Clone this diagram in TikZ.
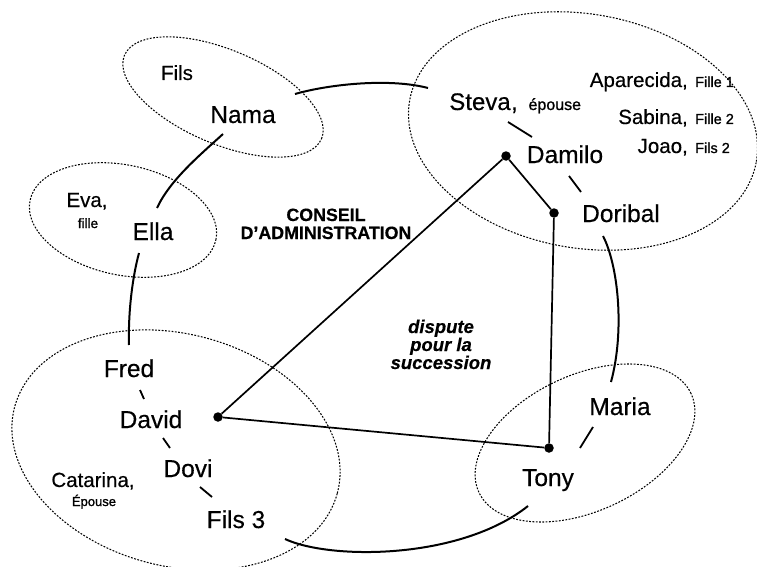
\documentclass[tikz,border=0pt]{standalone}
\usepackage{fontspec}
\setmainfont{Liberation Sans}[FakeBold=0.4]
\newfontfamily\smallf{Liberation Sans}[FakeBold=1.1]
\newcommand{\fbig}{\fontsize{24.5}{28}\selectfont}
\newcommand{\fmid}{\fontsize{20.5}{24}\selectfont}
\newcommand{\fsml}{\smallf\fontsize{14.5}{17}\selectfont}
\newcommand{\flab}{\fontsize{17.8}{18}\selectfont\bfseries}
\begin{document}
\begin{tikzpicture}[x=1pt,y=-1pt,
  txt/.style={inner sep=0pt, anchor=base},
  person/.style={txt, font=\fbig},
  mid/.style={txt, font=\fmid},
  small/.style={txt, font=\fsml},
  group/.style={draw, line width=1.05pt, dash pattern=on 1.8pt off 1.5pt},
  link/.style={line width=2pt},
  tie/.style={line width=1.7pt},
  sepline/.style={line width=1.8pt},
  dot/.style={circle, fill, inner sep=0pt, minimum size=9.5pt}]
\useasboundingbox (0,0) rectangle (757,567);

% dotted group ellipses
\draw[group, shift={(223,97)}, rotate=-23] (0,0) ellipse [x radius=107pt, y radius=47pt];
\draw[group, shift={(123,220)}, rotate=-12] (0,0) ellipse [x radius=95pt, y radius=55pt];
\draw[group, shift={(583,131)}, rotate=-10] (0,0) ellipse [x radius=176pt, y radius=117pt];
\draw[group, shift={(176,450)}, rotate=-15] (0,0) ellipse [x radius=167pt, y radius=116pt];
\draw[group, shift={(585,443)}, rotate=25] (0,0) ellipse [x radius=117pt, y radius=68pt];

% texts
\node[mid] (fils) at (177,80) {Fils};
\node[person] (nama) at (243,123) {Nama};
\node[mid] (eva) at (87,207) {Eva,};
\node[txt, font=\smallf\fontsize{13.5}{16}\selectfont] (fille) at (88,228) {fille};
\node[person] (ella) at (153,240) {Ella};
\node[txt, font=\flab, align=center] (conseil) at (326,239) {CONSEIL\\D’ADMINISTRATION};

\node[person, font=\fontsize{24}{28}\selectfont] (steva) at (480,110) {Steva};
\node[txt, anchor=base west] (stevaep) at (steva.base east) {\fontsize{24}{28}\selectfont,\hspace{0.45em}\smallf\fontsize{16}{19}\selectfont épouse};
\node[mid, anchor=base east] (apar) at (688,87) {Aparecida,};
\node[small, anchor=base west] (apar1) at (695,87) {Fille 1};
\node[mid, anchor=base east] (sabina) at (688,124) {Sabina,};
\node[small, anchor=base west] (sabina1) at (695,124) {Fille 2};
\node[mid, anchor=base east] (joao) at (688,153) {Joao,};
\node[small, anchor=base west] (joao1) at (695,153) {Fils 2};
\node[person] (damilo) at (565,163) {Damilo};
\node[person] (doribal) at (621,222) {Doribal};

\node[txt, font=\fontsize{18.5}{18}\selectfont\bfseries\itshape, align=center] (dispute) at (441,369) {dispute\\pour la\\succession};

\node[person] (maria) at (620,415) {Maria};
\node[person] (tony) at (548,486) {Tony};

\node[person] (fred) at (129,377) {Fred};
\node[person] (david) at (151,428) {David};
\node[person] (dovi) at (188,477) {Dovi};
\node[person] (fils3) at (236,528) {Fils 3};
\node[mid] (catarina) at (93,487) {Catarina,};
\node[txt, font=\smallf\fontsize{13}{15}\selectfont] (epouse) at (94,506) {Épouse};

% dots
\node[dot] (pdam) at (506,156) {};
\node[dot] (pdor) at (554,213) {};
\node[dot] (ptony) at (549,448) {};
\node[dot] (pdavid) at (218,417) {};

% dispute triangle
\draw[tie] (pdam) -- (pdavid);
\draw[tie] (pdam) -- (pdor);
\draw[tie] (pdor) -- (ptony);
\draw[tie] (pdavid) -- (ptony);

% council ring of links
\draw[link] ([shift={(52,-29)}]nama.base) .. controls (330,84) and (390,78) .. ([shift={(-52,-22)}]steva.base);
\draw[link] ([shift={(-20,11)}]nama.base) .. controls (200,155) and (170,180) .. ([shift={(4,-32)}]ella.base);
\draw[link] ([shift={(-14,13)}]ella.base) .. controls (133,275) and (128,310) .. ([shift={(0,-32)}]fred.base);
\draw[link] ([shift={(49,11)}]fils3.base) .. controls (330,560) and (460,560) .. ([shift={(-20,20)}]tony.base);
\draw[link] ([shift={(-18,14)}]doribal.base) .. controls (618,265) and (625,330) .. ([shift={(-9,-33)}]maria.base);

% short separators
\draw[sepline] ([shift={(28,12)}]steva.base) -- ([shift={(-33,-26)}]damilo.base);
\draw[sepline] ([shift={(4,13)}]damilo.base) -- ([shift={(-40,-30)}]doribal.base);
\draw[sepline] ([shift={(-27,12)}]maria.base) -- ([shift={(32,-38)}]tony.base);
\draw[sepline] ([shift={(11,13)}]fred.base) -- ([shift={(-7,-29)}]david.base);
\draw[sepline] ([shift={(12,10)}]david.base) -- ([shift={(-18,-29)}]dovi.base);
\draw[sepline] ([shift={(12,10)}]dovi.base) -- ([shift={(-24,-31)}]fils3.base);
\end{tikzpicture}
\end{document}
